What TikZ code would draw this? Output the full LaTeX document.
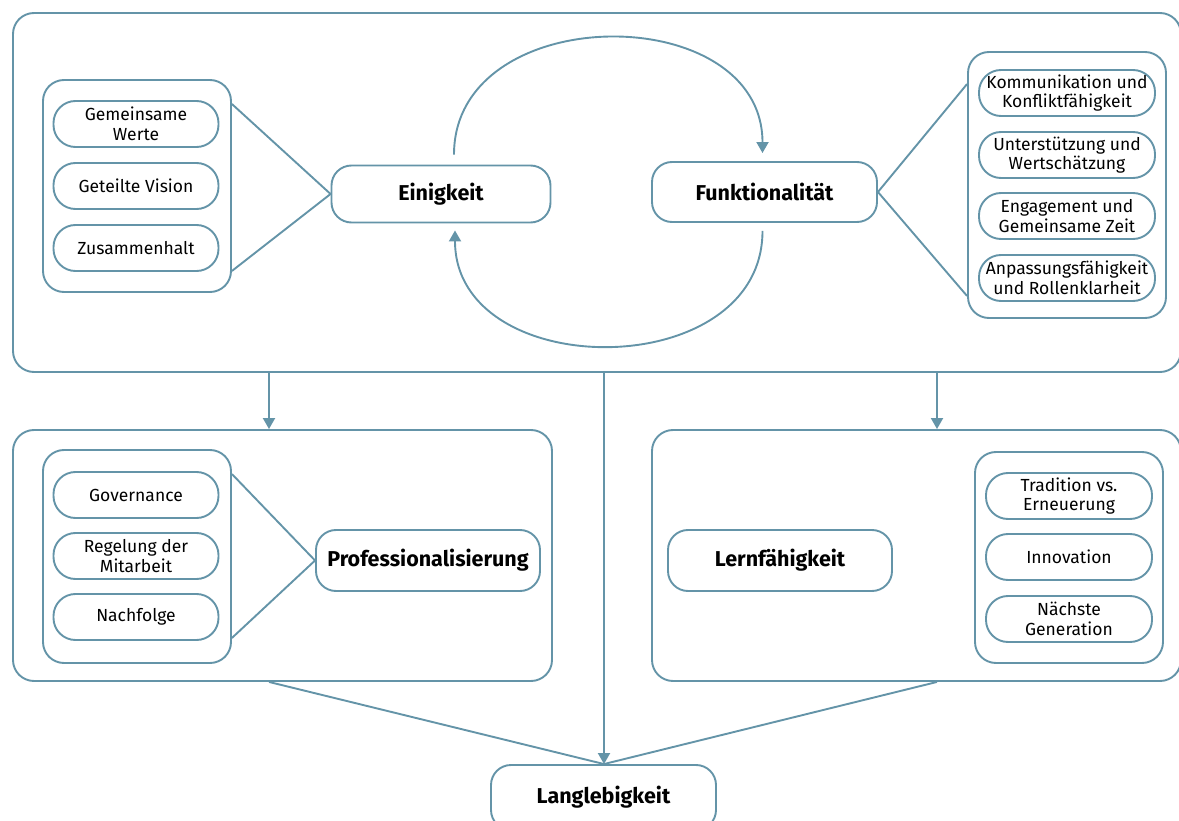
\documentclass[tikz,border=0pt]{standalone}
\usepackage{fontspec}
\setmainfont{Fira Sans}
\usepackage{tikz}
\usetikzlibrary{arrows.meta,calc}

\definecolor{lineblue}{RGB}{100,148,168}

\tikzset{
  frame/.style={draw=lineblue, line width=1.9pt, rounded corners=21pt, inner sep=0pt},
  pill/.style={draw=lineblue, line width=1.9pt, rounded corners=22pt, minimum height=46pt,
    inner sep=0pt, align=center, font=\fontsize{17.5}{19.5}\selectfont},
  keybox/.style={draw=lineblue, line width=1.9pt, rounded corners=20pt, inner sep=0pt,
    align=center, font=\fontsize{21.5}{24}\selectfont\bfseries},
  link/.style={draw=lineblue, line width=1.9pt},
  arr/.style={link, -{Triangle[width=12pt,length=11pt]}}
}

\begin{document}
\begin{tikzpicture}[x=1pt,y=1pt,yscale=-1,xscale=1]
\useasboundingbox (0,0) rectangle (1179,821);

%Shape: Outer frames
\node[frame, minimum width=1168pt, minimum height=359pt] (top) at (597,192.5) {};
\node[frame, minimum width=539pt, minimum height=251pt] (profbox) at (282.5,555.5) {};
\node[frame, minimum width=529pt, minimum height=251pt] (lernbox) at (916.5,555.5) {};

%Shape: Groups
\node[frame, minimum width=188pt, minimum height=212pt] (grpE) at (137,186) {};
\node[frame, minimum width=198pt, minimum height=266pt] (grpF) at (1067,185) {};
\node[frame, minimum width=188pt, minimum height=213pt] (grpP) at (137,556.5) {};
\node[frame, minimum width=188pt, minimum height=211pt] (grpL) at (1069,557.5) {};

% Text Node
\node[pill, minimum width=165pt] (werte) at (136,124) {Gemeinsame\\Werte};
% Text Node
\node[pill, minimum width=165pt] (vision) at (136,186) {Geteilte Vision};
% Text Node
\node[pill, minimum width=165pt] (halt) at (136,248) {Zusammenhalt};

% Text Node
\node[pill, minimum width=176pt] (komm) at (1067,93) {Kommunikation und\\Konfliktfähigkeit};
% Text Node
\node[pill, minimum width=176pt] (unter) at (1067,155) {Unterstützung und\\Wertschätzung};
% Text Node
\node[pill, minimum width=176pt] (engag) at (1067,216) {Engagement und\\Gemeinsame Zeit};
% Text Node
\node[pill, minimum width=176pt] (anpass) at (1067,278) {Anpassungsfähigkeit\\und Rollenklarheit};

% Text Node
\node[pill, minimum width=165pt] (gov) at (136,495) {Governance};
% Text Node
\node[pill, minimum width=165pt] (regel) at (136,556) {Regelung der\\Mitarbeit};
% Text Node
\node[pill, minimum width=165pt] (nach) at (136,617) {Nachfolge};

% Text Node
\node[pill, minimum width=166pt] (trad) at (1069,496) {Tradition vs.\\Erneuerung};
% Text Node
\node[pill, minimum width=166pt] (innov) at (1069,557) {Innovation};
% Text Node
\node[pill, minimum width=166pt] (gener) at (1069,619) {Nächste\\Generation};

% Text Node
\node[keybox, minimum width=219pt, minimum height=57pt] (einig) at (441,194) {Einigkeit};
% Text Node
\node[keybox, minimum width=225pt, minimum height=60pt] (funk) at (764.5,192) {Funktionalität};
% Text Node
\node[keybox, minimum width=224pt, minimum height=61pt] (prof) at (428,560.5) {Professionalisierung};
% Text Node
\node[keybox, minimum width=224pt, minimum height=61pt] (lern) at (780,560.5) {Lernfähigkeit};
% Text Node
\node[keybox, minimum width=225pt, minimum height=65pt] (lang) at (603.5,797.5) {Langlebigkeit};

%Straight Lines
\draw[link] ($(grpE.north east)+(0,25)$) -- (einig.west) -- ($(grpE.south east)+(0,-22)$);
\draw[link] ($(grpF.north west)+(0,33)$) -- (funk.east) -- ($(grpF.south west)+(0,-23)$);
\draw[link] ($(grpP.north east)+(0,25)$) -- (prof.west) -- ($(grpP.south east)+(0,-26)$);

%Curves: cycle
\draw[arr] ($(einig.north)+(13,-10)$) to[out=-90,in=-90,looseness=1.28] ($(funk.north)+(-2,-8)$);
\draw[arr] ($(funk.south)+(-2,8)$) to[out=90,in=90,looseness=1.28] ($(einig.south)+(14,7)$);

%Straight Lines: arrows down
\draw[arr] ($(top.south)+(-328,0)$) -- ($(profbox.north)+(-13.5,0)$);
\draw[arr] ($(top.south)+(340,0)$) -- ($(lernbox.north)+(20.5,0)$);
\draw[arr] ($(top.south -| lang.north)+(0.5,0)$) -- ($(lang.north)+(0.5,0)$);

%Straight Lines: into Langlebigkeit
\draw[link] ($(profbox.south)+(-13.5,0)$) -- ($(lang.north)+(0.5,0)$);
\draw[link] ($(lernbox.south)+(20.5,0)$) -- ($(lang.north)+(0.5,0)$);

\end{tikzpicture}
\end{document}
